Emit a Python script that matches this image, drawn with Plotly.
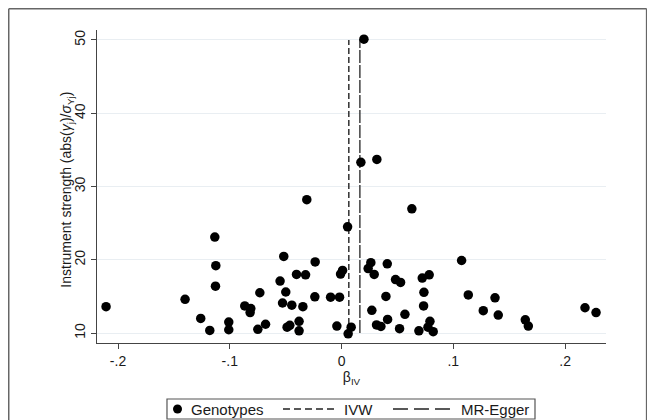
import plotly.graph_objects as go

# Genotype estimates (beta_IV) and instrument strength
beta_iv = [0.020, 0.0173, 0.0316, -0.0311, 0.0054, -0.1134, -0.0517, -0.0236, -0.1125,
           0.0629, 0.1074, 0.0409, 0.0262,
           -0.1128, -0.2107, -0.140, -0.126, -0.1179, -0.1009, -0.1009, -0.0866, -0.0812,
           -0.0818, -0.0731, -0.0749, -0.068,
           -0.055, -0.0403, -0.0322, -0.0499, -0.0528, -0.0445, -0.0346, -0.0239, -0.0098,
           -0.0018, 0.0009, -0.0009, -0.0487, -0.0463, -0.038, -0.038, -0.0042, 0.0086,
           0.0059, 0.0238, 0.0292, 0.0483, 0.0528, 0.0722, 0.0784, 0.0397, 0.0737, 0.0271,
           0.0734, 0.0567, 0.0313, 0.0352, 0.0412, 0.0519, 0.0692, 0.0791, 0.0773, 0.082,
           0.1134, 0.1373, 0.1268, 0.1402, 0.1644, 0.1671, 0.2178, 0.2277]
strength = [50.1, 33.3, 33.7, 28.2, 24.5, 23.1, 20.45, 19.7, 19.2,
            26.95, 19.9, 19.45, 19.6,
            16.4, 13.6, 14.6, 12.0, 10.36, 11.5, 10.45, 13.7, 13.35,
            12.8, 15.5, 10.5, 11.2,
            17.1, 18.0, 17.95, 15.6, 14.1, 13.8, 13.6, 14.95, 14.9,
            14.9, 18.55, 18.05, 10.8, 11.05, 11.6, 10.3, 10.95, 10.8,
            9.9, 18.8, 18.0, 17.3, 16.9, 17.5, 17.95, 15.0, 15.55, 13.1,
            13.7, 12.55, 11.1, 10.9, 11.85, 10.6, 10.3, 11.6, 10.8, 10.18,
            15.2, 14.8, 13.05, 12.45, 11.8, 10.95, 13.45, 12.8]

ivw_beta = 0.0065
egger_beta = 0.0164
line_span = [10, 50]

x_ticks = [-0.2, -0.1, 0, 0.1, 0.2]
x_tick_labels = ["-.2", "-.1", "0", ".1", ".2"]
y_ticks = [10, 20, 30, 40, 50]
y_tick_labels = ["10", "20", "30", "40", "50"]

legend_names = ["Genotypes", "IVW", "MR-Egger"]

FONT = "Liberation Sans, Arial, sans-serif"
TXT = "#1a1a1a"
IVW_DASH = "6px,3px"
EGGER_DASH = "13px,2px"

fig = go.Figure()
fig.add_trace(go.Scatter(
    x=[ivw_beta, ivw_beta], y=line_span, mode="lines", name=legend_names[1],
    line=dict(color="#222222", width=1.4, dash=IVW_DASH), showlegend=False))
fig.add_trace(go.Scatter(
    x=[egger_beta, egger_beta], y=line_span, mode="lines", name=legend_names[2],
    line=dict(color="#333333", width=1.4, dash=EGGER_DASH), showlegend=False))
fig.add_trace(go.Scatter(
    x=beta_iv, y=strength, mode="markers", name=legend_names[0],
    marker=dict(color="black", size=9.5), showlegend=False))

# legend drawn as a Stata-style key box below the x-axis title (paper coordinates)
LEG_Y = -0.2109
legend_shapes = [
    dict(type="rect", xref="paper", yref="paper", x0=0.1375, x1=0.8605,
         y0=-0.2428, y1=-0.1789, line=dict(color="#555", width=1.2)),
    dict(type="circle", xref="paper", yref="paper", xsizemode="pixel", ysizemode="pixel",
         xanchor=0.1582, yanchor=LEG_Y, x0=-4.5, x1=4.5, y0=-4.5, y1=4.5,
         fillcolor="black", line=dict(color="black", width=0)),
    dict(type="line", xref="paper", yref="paper", x0=0.3654, x1=0.4715, y0=LEG_Y, y1=LEG_Y,
         line=dict(color="#222", width=1.4, dash="7px,4px")),
    dict(type="line", xref="paper", yref="paper", x0=0.5815, x1=0.6935, y0=LEG_Y, y1=LEG_Y,
         line=dict(color="#222", width=1.4, dash="15px,6px")),
]
legend_text_x = [0.1807, 0.4813, 0.7112]
legend_annotations = [
    dict(text=name, x=lx, y=LEG_Y, xref="paper", yref="paper", xanchor="left",
         yanchor="middle", showarrow=False, font=dict(size=15, color=TXT))
    for name, lx in zip(legend_names, legend_text_x)
]

frame_shapes = [
    dict(type="line", xref="paper", yref="paper", x0=-0.1734, x1=-0.1734,
         y0=-0.3, y1=1.0679, line=dict(color="#666", width=1.5)),
    dict(type="line", xref="paper", yref="paper", x0=-0.1734, x1=1.0798,
         y0=1.0679, y1=1.0679, line=dict(color="#666", width=1.5)),
    dict(type="line", xref="paper", yref="paper", x0=1.0798, x1=1.0798,
         y0=-0.3, y1=1.0679, line=dict(color="#666", width=1.5)),
]

y_title = dict(text="Instrument strength (abs(<i>γ</i><sub>j</sub>)/<i>σ</i><sub>Yj</sub>)",
               x=-0.0589, y=0.49, xref="paper", yref="paper", textangle=-90,
               xanchor="center", yanchor="middle", showarrow=False,
               font=dict(size=14, color=TXT))

# page has an 8px body margin, so the figure is 8px smaller than the window
fig.update_layout(
    width=647, height=412,
    margin=dict(l=89, r=49, t=22, b=77, autoexpand=False),
    paper_bgcolor="white", plot_bgcolor="white",
    font=dict(family=FONT, size=14, color=TXT),
    showlegend=False,
    xaxis=dict(range=[-0.2188, 0.2366], tickvals=x_ticks, ticktext=x_tick_labels,
               showgrid=False, zeroline=False, showline=True, linecolor="#444",
               linewidth=1, ticks="outside", ticklen=5, tickcolor="#444",
               tickfont=dict(size=14),
               title=dict(text="β<sub>IV</sub>", font=dict(size=14), standoff=2)),
    yaxis=dict(range=[8.64, 51.36], tickvals=y_ticks, ticktext=y_tick_labels,
               tickangle=-90, showgrid=True, gridcolor="#e9eef2", gridwidth=1,
               zeroline=False, showline=True, linecolor="#444", linewidth=1,
               ticks="outside", ticklen=5, tickcolor="#444",
               tickfont=dict(size=14)),
    shapes=frame_shapes + legend_shapes,
    annotations=legend_annotations + [y_title],
)

fig.write_html("out.html")
